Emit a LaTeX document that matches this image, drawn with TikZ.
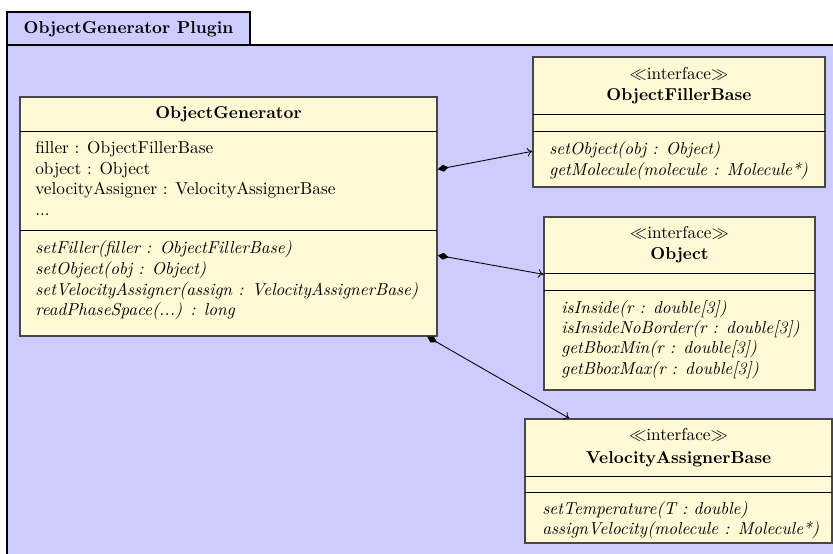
\documentclass[tikz,border=0pt]{standalone}
\usetikzlibrary{arrows.meta,fit,calc}
\definecolor{pkgblue}{RGB}{204,204,255}
\definecolor{classcream}{RGB}{255,249,214}
\begin{document}
\begin{tikzpicture}[x=0.58pt,y=-0.58pt,
  pkg/.style={draw=black, line width=0.6pt, fill=pkgblue},
  classbox/.style={draw=black!72, line width=0.8pt, fill=classcream, inner sep=0pt},
  sep/.style={draw=black, line width=0.5pt},
  lbl/.style={inner sep=0pt, anchor=base west},
  meth/.style={lbl, font=\itshape},
  ctitle/.style={inner sep=0pt, anchor=base, font=\bfseries},
  stereo/.style={inner sep=0pt, anchor=base},
  comp/.style={draw=black, line width=0.5pt,
    {Diamond[length=6.5pt,width=4pt]}-{To[length=3pt,width=5pt]}}
]
\useasboundingbox (0,0) rectangle (833,554);
\clip (0,0) rectangle (833,554);

% package frame with its name tab
\draw[pkg] (7,45) rectangle (850,570);
\draw[pkg] (7,12) rectangle (250,45);
\node[ctitle] (pkgname) at (128.5,34) {ObjectGenerator Plugin};

% class ObjectGenerator
\node[classbox, fit={(20,97) (437,336)}] (og) {};
\draw[sep] (20,131) -- (437,131);
\draw[sep] (20,230) -- (437,230);
\node[ctitle] (og-name) at (228.5,119) {ObjectGenerator};
\node[lbl] (og-a1) at (35,154) {filler : ObjectFillerBase};
\node[lbl] (og-a2) at (35,174.5) {object : Object};
\node[lbl] (og-a3) at (35,195) {velocityAssigner : VelocityAssignerBase};
\node[lbl] (og-a4) at (35,215.5) {...};
\node[meth] (og-m1) at (35,254) {setFiller(filler : ObjectFillerBase)};
\node[meth] (og-m2) at (35,274.5) {setObject(obj : Object)};
\node[meth] (og-m3) at (35,295) {setVelocityAssigner(assign : VelocityAssignerBase)};
\node[meth] (og-m4) at (35,315.5) {readPhaseSpace(...) : long};

% interface ObjectFillerBase
\node[classbox, fit={(533,57) (825,187)}] (ofb) {};
\draw[sep] (533,114) -- (825,114);
\draw[sep] (533,131) -- (825,131);
\node[stereo] (ofb-st) at (679,80) {$\ll$interface$\gg$};
\node[ctitle] (ofb-name) at (679,101) {ObjectFillerBase};
\node[meth] (ofb-m1) at (549,155) {setObject(obj : Object)};
\node[meth] (ofb-m2) at (549,175.5) {getMolecule(molecule : Molecule*)};

% interface Object
\node[classbox, fit={(544,217) (815,390)}] (obj) {};
\draw[sep] (544,273) -- (815,273);
\draw[sep] (544,290) -- (815,290);
\node[stereo] (obj-st) at (679.5,239) {$\ll$interface$\gg$};
\node[ctitle] (obj-name) at (679.5,260) {Object};
\node[meth] (obj-m1) at (561,313) {isInside(r : double[3])};
\node[meth] (obj-m2) at (561,333.5) {isInsideNoBorder(r : double[3])};
\node[meth] (obj-m3) at (561,354) {getBboxMin(r : double[3])};
\node[meth] (obj-m4) at (561,374.5) {getBboxMax(r : double[3])};

% interface VelocityAssignerBase
\node[classbox, fit={(525,419) (832,543)}] (vab) {};
\draw[sep] (525,476) -- (832,476);
\draw[sep] (525,492) -- (832,492);
\node[stereo] (vab-st) at (678.5,441) {$\ll$interface$\gg$};
\node[ctitle] (vab-name) at (678.5,463) {VelocityAssignerBase};
\node[meth] (vab-m1) at (542,514) {setTemperature(T : double)};
\node[meth] (vab-m2) at (542,534.5) {assignVelocity(molecule : Molecule*)};

% compositions
\draw[comp] ($(og.north east)+(0,73)$) -- ($(ofb.north west)+(0,95)$);
\draw[comp] ($(og.north east)+(0,159)$) -- ($(obj.north west)+(0,58)$);
\draw[comp] ($(og.south west)+(408,0)$) -- ($(vab.north west)+(45,0)$);
\end{tikzpicture}
\end{document}
